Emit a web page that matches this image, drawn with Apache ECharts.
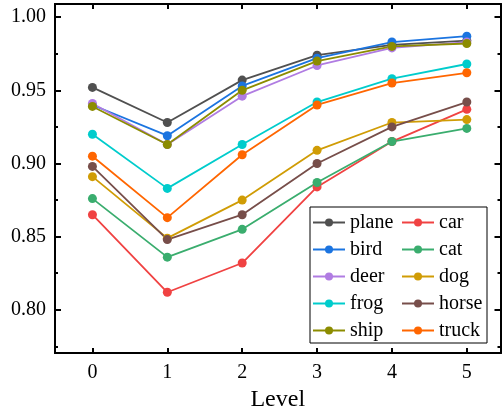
<!DOCTYPE html>
<html>
<head>
<meta charset="utf-8">
<script src="https://cdn.jsdelivr.net/npm/echarts@6/dist/echarts.min.js"></script>
<style>
  html, body { margin: 0; padding: 0; background: #fff; }
  #chart { width: 502px; height: 417px; }
</style>
</head>
<body>
<div id="chart"></div>
<script>
// accuracy per class at each level
const levels = [0, 1, 2, 3, 4, 5];
const classNames = ["plane", "car", "bird", "cat", "deer", "dog", "frog", "horse", "ship", "truck"];
const plane = [0.952, 0.928, 0.957, 0.974, 0.981, 0.984];
const car   = [0.865, 0.812, 0.832, 0.884, 0.915, 0.937];
const bird  = [0.940, 0.919, 0.953, 0.972, 0.983, 0.987];
const cat   = [0.876, 0.836, 0.855, 0.887, 0.915, 0.924];
const deer  = [0.941, 0.913, 0.946, 0.967, 0.979, 0.983];
const dog   = [0.891, 0.849, 0.875, 0.909, 0.928, 0.930];
const frog  = [0.920, 0.883, 0.913, 0.942, 0.958, 0.968];
const horse = [0.898, 0.848, 0.865, 0.900, 0.925, 0.942];
const ship  = [0.939, 0.913, 0.950, 0.970, 0.980, 0.982];
const truck = [0.905, 0.863, 0.906, 0.940, 0.955, 0.962];
const yMajor = [0.80, 0.85, 0.90, 0.95, 1.00];
const yMinor = [0.775, 0.825, 0.875, 0.925, 0.975];

const values = [plane, car, bird, cat, deer, dog, frog, horse, ship, truck];
const colors = ["#505050", "#f04242", "#1b74e0", "#3aad6e", "#b07ce2",
                "#d09c05", "#00cccc", "#774e4a", "#8c8c00", "#ff6600"];

const chart = echarts.init(document.getElementById("chart"));
const serif = "Liberation Serif";
const yMin = 0.7705, yMax = 1.009;
const xMin = -0.5, xMax = 5.45;

function yAx(pos, custom, len, showLabel) {
  return {
    type: "value", position: pos, min: yMin, max: yMax,
    axisLine: { show: true, onZero: false, lineStyle: { color: "#000", width: 2 } },
    axisTick: { show: true, inside: true, length: len, customValues: custom,
                lineStyle: { color: "#000", width: 2 } },
    axisLabel: { show: showLabel, customValues: custom, margin: 9,
                 formatter: v => v.toFixed(2),
                 fontFamily: serif, fontSize: 20, color: "#000" },
    splitLine: { show: false }
  };
}

function xAx(pos, showLabel) {
  return {
    type: "value", position: pos, min: xMin, max: xMax,
    name: showLabel ? "Level" : "", nameLocation: "middle", nameGap: 34,
    nameTextStyle: { fontFamily: serif, fontSize: 24, color: "#000" },
    axisLine: { show: true, onZero: false, lineStyle: { color: "#000", width: 2 } },
    axisTick: { show: true, inside: true, length: 5, customValues: levels,
                lineStyle: { color: "#000", width: 2 } },
    axisLabel: { show: showLabel, customValues: levels, margin: 10,
                 fontFamily: serif, fontSize: 20, color: "#000" },
    splitLine: { show: false }
  };
}

chart.setOption({
  animation: false,
  color: colors,
  textStyle: { fontFamily: serif },
  grid: { left: 55, right: 1.5, top: 4, bottom: 64 },
  xAxis: [xAx("bottom", true), xAx("top", false)],
  yAxis: [
    yAx("left", yMajor, 6, true),
    yAx("left", yMinor, 3, false),
    yAx("right", yMajor, 6, false),
    yAx("right", yMinor, 3, false)
  ],
  legend: {
    left: 310, top: 207, width: 172,
    orient: "horizontal",
    padding: [5, 3, 2, 2],
    borderColor: "#000", borderWidth: 1,
    itemWidth: 32, itemHeight: 10, itemGap: 6,
    textStyle: { fontFamily: serif, fontSize: 20, color: "#000", width: 45, lineHeight: 21 },
    data: classNames
  },
  series: classNames.map((name, i) => ({
    name: name,
    type: "line",
    xAxisIndex: 0,
    yAxisIndex: 0,
    data: levels.map((lv, j) => [lv, values[i][j]]),
    symbol: "circle",
    symbolSize: 9,
    lineStyle: { width: 1.8 },
    itemStyle: { color: colors[i] }
  }))
});
</script>
</body>
</html>
